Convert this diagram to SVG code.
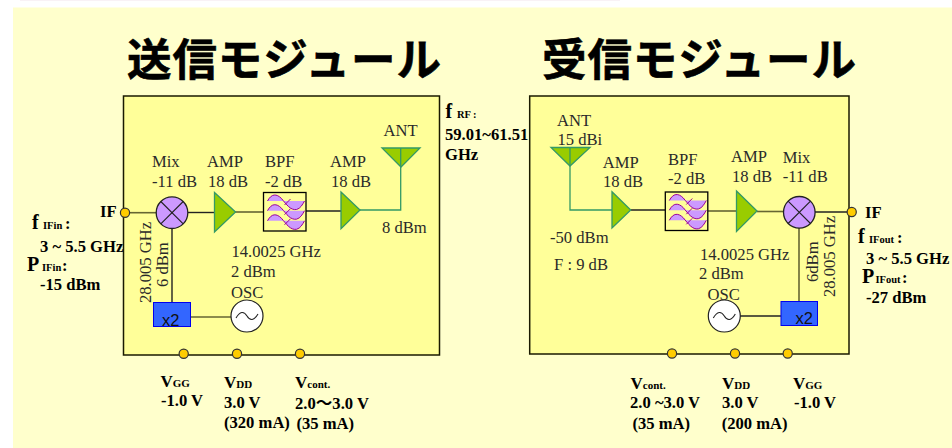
<svg xmlns="http://www.w3.org/2000/svg" width="952" height="448" viewBox="0 0 952 448">
<style>
text{font-family:"Liberation Serif","Noto Sans CJK JP",serif;font-size:16.6px;fill:#2a2a2a}
.b{font-weight:bold;fill:#000}
.s{font-size:10.5px}
.u{font-size:11px}
.f{font-size:20px}
.v{font-size:17px}
.t{font-family:"Noto Sans CJK JP","Noto Sans CJK SC",sans-serif;font-size:44.5px;font-weight:700;fill:#000;stroke:#000;stroke-width:.6}
.x{font-family:"Liberation Sans",sans-serif;font-size:16.5px;fill:#111}
.box{fill:#ffff99;stroke:#1a1a00;stroke-width:1.5}
.port{fill:#ffcc00;stroke:#333;stroke-width:1.2}
.mix{fill:#cc99ff;stroke:#222;stroke-width:1.3}
.amp{fill:#99cc00;stroke:#339966;stroke-width:1.3}
.osc{fill:#fff;stroke:#222;stroke-width:1.2}
.dbl{fill:#3366ff;stroke:#0000ee;stroke-width:1}
.bpf{fill:#ffff99;stroke:#000;stroke-width:1.3}
.w{fill:#cc99ff;stroke:none}
.wl{fill:none;stroke:#990099;stroke-width:1}
.k{fill:none;stroke:#222;stroke-width:1.4}
.o{fill:none;stroke:#666633;stroke-width:1.6}
.g{fill:none;stroke:#339966;stroke-width:1.3}
</style>
<defs>
<g id="wave">
<path class="w" d="M4 8.5C8 1 13 1 18 6C23 12 27 18 33 17C37 16 39 12 41 8.5Z"/>
<path class="wl" d="M4 8.5C8 1 13 1 18 6C23 12 27 18 33 17C37 16 39 12 41 8.5M21 12.5L27 6.5"/>
</g>
<g id="filter">
<rect class="bpf" width="42.5" height="38.5"/>
<use href="#wave"/>
<use href="#wave" y="9.7"/>
<use href="#wave" y="19.8"/>
</g>
<g id="mixer">
<circle class="mix" r="15.8"/>
<path class="k" style="stroke-width:1.1" d="M-11.2-11.2L11.2 11.2M-11.2 11.2L11.2-11.2"/>
</g>
<g id="oscil">
<circle class="osc" r="16"/>
<path class="k" style="stroke-width:1.1" d="M-11 2C-7-5-3-5 0 0C3 5 7 5 11-2"/>
</g>
</defs>
<rect width="952" height="448" fill="#ffffff"/>
<rect x="20" y="0" width="600" height="1" fill="#f9f2f6"/>
<rect x="13" y="7.5" width="939" height="441" fill="#ffffcc"/>
<text class="t" x="127" y="76" textLength="314">送信モジュール</text>
<text class="t" x="542" y="76" textLength="314">受信モジュール</text>
<g id="tx-module"><rect class="box" x="123.5" y="96" width="316" height="259"/></g>
<g id="rx-module"><rect class="box" x="529.7" y="96" width="319.3" height="258"/></g>
<g id="connectors">
<path class="o" d="M125 212.7H157"/>
<path class="k" d="M188 212.5H215"/>
<path class="o" d="M235 212H264"/>
<path class="k" d="M172 228V302"/>
<path class="o" d="M190.7 317H231"/>
<path class="k" d="M306 211H341"/>
<path class="g" d="M360 210H400.7V167"/>
<path class="g" d="M570 166V210H612"/>
<path class="k" d="M630.7 210H665.3"/>
<path class="o" d="M708 211H736.5"/>
<path class="o" d="M757 211.5H784"/>
<path class="k" d="M815 212H852"/>
<path class="o" d="M799 228V301.5"/>
<path class="k" d="M740 316H781"/>
</g>
<g id="tx-if-port"><circle class="port" cx="125" cy="212.7" r="4.6"/><text class="b" x="100" y="217">IF</text></g>
<g id="tx-mix"><use href="#mixer" x="172" y="212.7"/><text x="152" y="167">Mix</text><text x="152" y="187">-11 dB</text></g>
<g id="tx-amp1"><polygon class="amp" points="214.5,192.5 235.5,212 214.5,232"/><text x="207" y="167">AMP</text><text x="208" y="187">18 dB</text></g>
<g id="tx-bpf"><use href="#filter" x="263.5" y="192.5"/><text x="265" y="167">BPF</text><text x="265" y="187">-2 dB</text></g>
<g id="tx-amp2"><polygon class="amp" points="341,192 360,210 341,228.7"/><text x="330" y="167">AMP</text><text x="331" y="187">18 dB</text></g>
<g id="tx-ant"><polygon class="amp" points="382,148 420,148 401,167"/><path class="g" d="M400.7 148V167"/><text x="383.5" y="136">ANT</text><text x="382" y="233">8 dBm</text></g>
<g id="tx-x2"><rect class="dbl" x="153.5" y="302.5" width="37" height="24"/><text class="x" x="162" y="326">x2</text></g>
<g id="tx-osc"><use href="#oscil" x="247" y="316"/><text x="231.5" y="257">14.0025 GHz</text><text x="231" y="277">2 dBm</text><text x="231" y="298">OSC</text></g>
<g id="tx-vgg"><circle class="port" cx="183.7" cy="353.7" r="4.6"/><text class="b v" x="160.5" y="387">V<tspan class="u">GG</tspan></text><text class="b" x="161" y="406">-1.0 V</text></g>
<g id="tx-vdd"><circle class="port" cx="237" cy="353.7" r="4.6"/><text class="b v" x="224" y="388">V<tspan class="u">DD</tspan></text><text class="b" x="224" y="408">3.0 V</text><text class="b" x="224" y="428">(320 mA)</text></g>
<g id="tx-vcont"><circle class="port" cx="300" cy="353.7" r="4.6"/><text class="b v" x="295" y="388">V<tspan class="u">cont.</tspan></text><text class="b" x="295" y="409">2.0～3.0 V</text><text class="b" x="296.5" y="429">(35 mA)</text></g>
<g id="rx-ant"><polygon class="amp" points="551,147.5 590,147.5 570,166"/><path class="g" d="M570 147.5V166"/><text x="557" y="126">ANT</text><text x="557.5" y="145">15 dBi</text><text x="550" y="243">-50 dBm</text><text x="554" y="270">F : 9 dB</text></g>
<g id="rx-amp1"><polygon class="amp" points="612,191.7 630.7,210 612,228"/><text x="602.7" y="168">AMP</text><text x="603" y="187">18 dB</text></g>
<g id="rx-bpf"><use href="#filter" x="665.3" y="192"/><text x="668" y="165">BPF</text><text x="668" y="184">-2 dB</text></g>
<g id="rx-amp2"><polygon class="amp" points="736.5,191 757,211 736.5,231.5"/><text x="731" y="162">AMP</text><text x="732" y="182">18 dB</text></g>
<g id="rx-mix"><use href="#mixer" x="799.3" y="212.3"/><text x="782.7" y="163">Mix</text><text x="782.7" y="182">-11 dB</text><text transform="translate(817.7 282) rotate(-90)">6dBm</text><text transform="translate(835 297) rotate(-90)">28.005 GHz</text></g>
<g id="rx-if-port"><circle class="port" cx="851.7" cy="212" r="4.6"/><text class="b" x="865" y="218">IF</text></g>
<g id="rx-x2"><rect class="dbl" x="781" y="301.5" width="36.5" height="24"/><text class="x" x="795.5" y="324">x2</text></g>
<g id="rx-osc"><use href="#oscil" x="724.3" y="316"/><text x="700" y="260">14.0025 GHz</text><text x="699" y="279">2 dBm</text><text x="707.5" y="300">OSC</text></g>
<g id="rx-vcont"><circle class="port" cx="672" cy="353.5" r="4.6"/><text class="b v" x="630.5" y="389">V<tspan class="u">cont.</tspan></text><text class="b" x="630" y="408">2.0 ~3.0 V</text><text class="b" x="632.5" y="429">(35 mA)</text></g>
<g id="rx-vdd"><circle class="port" cx="735" cy="353.5" r="4.6"/><text class="b v" x="722" y="389">V<tspan class="u">DD</tspan></text><text class="b" x="722" y="408">3.0 V</text><text class="b" x="721.7" y="429">(200 mA)</text></g>
<g id="rx-vgg"><circle class="port" cx="787.7" cy="353.5" r="4.6"/><text class="b v" x="793" y="389">V<tspan class="u">GG</tspan></text><text class="b" x="794" y="408">-1.0 V</text></g>
<g id="tx-labels">
<text transform="translate(151 303) rotate(-90)">28.005 GHz</text>
<text transform="translate(168 287) rotate(-90)">6 dBm</text>
<text class="b f" x="32" y="229">f</text><text class="b s" x="43" y="229">IFin</text><text class="b" x="65" y="229">:</text>
<text class="b" x="40" y="252">3 ~ 5.5 GHz</text>
<text class="b f" x="27" y="271">P</text><text class="b s" x="42" y="271">IFin</text><text class="b" x="62" y="271">:</text>
<text class="b" x="40" y="290">-15 dBm</text>
<text class="b f" x="445.5" y="118">f</text><text class="b s" x="457" y="118">RF</text><text class="b s" x="473" y="118">:</text>
<text class="b" x="445" y="140">59.01~61.51</text>
<text class="b" x="445" y="160">GHz</text>
</g>
<g id="rx-labels">
<text class="b f" x="858" y="243">f</text><text class="b s" x="869" y="243">IFout</text><text class="b" x="897" y="243">:</text>
<text class="b" x="866" y="264">3 ~ 5.5 GHz</text>
<text class="b f" x="862" y="283">P</text><text class="b s" x="875.5" y="283">IFout</text><text class="b" x="902" y="283">:</text>
<text class="b" x="866" y="303">-27 dBm</text>
</g>
</svg>
